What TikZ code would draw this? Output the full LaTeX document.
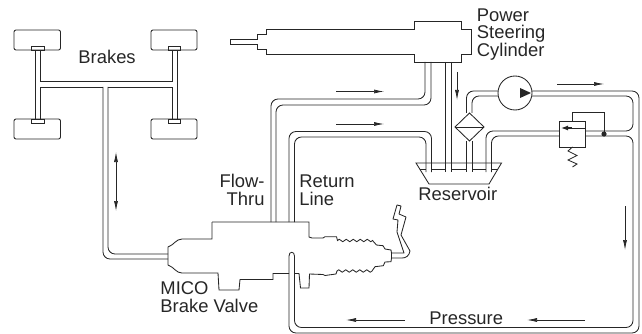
\documentclass[tikz,border=0pt]{standalone}
\usepackage{fontspec}
\setmainfont{Liberation Sans}
\usetikzlibrary{arrows.meta}

\begin{document}
\begin{tikzpicture}[x=1pt, y=-1pt, line width=0.85pt, color=black!85,
        wall/.style={rounded corners=7pt},
        flow/.style={line width=0.7pt, -{Latex[length=10pt, width=4pt]}},
        label/.style={inner sep=0pt, anchor=base west, align=left, font=\fontsize{18.4}{17.7}\selectfont},
        wheel/.style={rounded corners=2pt}]
        \useasboundingbox (0, 0) rectangle (642, 334);

        % WHEELS
        \draw[wheel] (14, 30) rectangle (60.5, 50);
        \draw[wheel] (151, 30) rectangle (197, 50);
        \draw[wheel] (14, 119) rectangle (60.5, 139);
        \draw[wheel] (151, 119) rectangle (197, 139);
        \draw (31, 46) rectangle (44, 50);
        \draw (168, 46) rectangle (180.5, 50);
        \draw (31, 119.5) rectangle (44, 123);
        \draw (168, 119.5) rectangle (180.5, 123);

        % BRAKE LINES
        \draw (35, 50) -- (35, 119.5);
        \draw (40, 50) -- (40, 81.5) -- (172, 81.5) -- (172, 50);
        \draw (177, 50) -- (177, 119.5);
        \draw (40, 119.5) -- (40, 87) -- (103, 87);
        \draw (172, 119.5) -- (172, 87) -- (108, 87);
        \draw[wall] (103, 87) -- (103, 259) -- (168, 259);
        \draw[wall] (108, 87) -- (108, 254) -- (168, 254);

        % CYLINDER
        \draw (414, 21) -- (461, 21) -- (461, 29) -- (471, 29) -- (471, 54) -- (461, 54) -- (461, 62)
            -- (414, 62) -- (414, 54) -- (266, 54) -- (266, 49) -- (257, 49) -- (257, 44) -- (230, 44)
            -- (230, 39) -- (257, 39) -- (257, 34) -- (266, 34) -- (266, 29) -- (414, 29) -- cycle;

        % FLOW-THRU
        \draw[wall] (425, 62) -- (425, 99) -- (271, 99) -- (271, 222);
        \draw[wall] (431, 62) -- (431, 105) -- (276, 105) -- (276, 222);
        % RETURN
        \draw[wall] (289, 222) -- (289, 131.5) -- (431.5, 131.5) -- (431.5, 172);
        \draw[wall] (294.5, 222) -- (294.5, 137) -- (426, 137) -- (426, 172);
        \draw (445.5, 62) -- (445.5, 172);
        \draw (451, 62) -- (451, 172);

        % PRESSURE
        \draw (289, 256) .. controls (289, 251) and (294.5, 251) .. (294.5, 256);
        \draw[wall] (294.5, 256) -- (294.5, 327.5) -- (633, 327.5) -- (633, 136) -- (585, 136);
        \draw[wall] (289, 256) -- (289, 333) -- (639, 333) -- (639, 91) -- (466.5, 91) -- (466.5, 113);
        \draw[wall] (585, 131) -- (633, 131) -- (633, 96) -- (472, 96) -- (472, 113);
        \draw[wall] (559, 131) -- (486, 131) -- (486, 172);
        \draw[wall] (559, 136) -- (491.5, 136) -- (491.5, 172);
        \draw (466.5, 141) -- (466.5, 172);
        \draw (472, 141) -- (472, 172);

        % RESERVOIR
        \draw (416, 163) -- (501.5, 163) -- (489, 184) -- (429, 184) -- cycle;
        \draw (419.5, 169.5) -- (426, 169.5);
        \draw (431.5, 169.5) -- (445.5, 169.5);
        \draw (451, 169.5) -- (466.5, 169.5);
        \draw (472, 169.5) -- (486, 169.5);
        \draw (491.5, 169.5) -- (497.5, 169.5);

        % FILTER
        \draw[fill=white] (455, 127) -- (469.5, 113) -- (484, 127) -- (469.5, 141) -- cycle;
        \draw (455, 127) -- (484, 127);

        % PUMP
        \draw[fill=white] (515, 93) circle (17);
        \fill (520, 88) -- (531, 93) -- (520, 98) -- cycle;

        % RELIEF VALVE
        \draw[fill=white] (559, 121) rectangle (585, 147);
        \draw[line width=0.6pt] (570, 128) -- (585, 128);
        \draw[line width=1.2pt, -{Latex[length=7pt, width=5pt]}] (572, 128) -- (561, 128);
        \draw (572, 121) -- (572, 112) -- (604, 112) -- (604, 134);
        \fill (604, 134) circle (2.6);
        \draw (572.5, 147) -- (568, 151) -- (577, 155.5) -- (568, 160) -- (577, 164) -- (572.5, 167);

        % BRAKE VALVE
        \draw (212, 222) -- (309, 222) -- (309, 237) -- (312, 238) -- (323, 238) -- (325, 236.7) -- (336.5, 236.7)
            -- (337.5, 240.5) foreach \i in {1,...,5} {sin ++(1.75, -1.2) cos ++(1.75, 1.2) sin ++(1.75, 1.2) cos ++(1.75, -1.2)}
            -- (376.5, 245) -- (383, 245.7) -- (385, 249) -- (391, 250) -- (391.5, 253);
        \draw (212, 222) -- (212, 239) -- (182, 239) .. controls (176, 239) and (174, 245) .. (168, 247)
            -- (168, 265) .. controls (174, 267) and (176, 273) .. (182, 273) -- (218, 273) -- (219, 290)
            -- (239, 290) -- (240, 279.5) -- (273, 279.5) -- (273, 273.5) -- (289, 273.5);
        \draw (294.5, 273.5) -- (299, 273.5) -- (300.5, 288) -- (309, 288) -- (309.5, 274) -- (323, 274.5) -- (325, 275.5) -- (336, 274)
            -- (337, 271) foreach \i in {1,...,5} {sin ++(1.75, -1.2) cos ++(1.75, 1.2) sin ++(1.75, 1.2) cos ++(1.75, -1.2)}
            -- (375, 266.7) -- (383.3, 265.7) -- (385, 262) -- (391, 261.7) -- (391.5, 258);

        % PEDAL
        \draw[line join=round] (391.5, 253) -- (404, 253) -- (397, 232) -- (398, 220) -- (393, 219) -- (397, 205)
            -- (401, 206) -- (399, 214) -- (406, 217) -- (401, 235) -- (410, 251)
            .. controls (409, 256) and (406, 258) .. (402, 258) -- (391.5, 258) -- cycle;

        % ARROWS
        \draw[flow, {Latex[length=10pt, width=4pt]}-] (116, 152) -- (116, 181);
        \draw[flow] (116, 181) -- (116, 211);
        \draw[flow] (336, 91.5) -- (384, 91.5);
        \draw[flow] (336, 124) -- (384, 124);
        \draw[flow] (557, 84) -- (604, 84);
        \draw[flow] (457, 72) -- (457, 100);
        \draw[flow] (625, 206) -- (625, 250);
        \draw[flow] (405, 320) -- (346, 320);
        \draw[flow] (585, 320) -- (527, 320);

        % LABELS
        \node[label] (brakes) at (78, 64) {Brakes};
        \node[label] (cylinder) at (476.5, 56.5) {Power\\Steering\\Cylinder};
        \node[label, anchor=base east, align=right] (flowthru) at (265, 205) {Flow-\\Thru};
        \node[label] (returnline) at (299, 205) {Return\\Line};
        \node[label] (reservoir) at (418, 200.5) {Reservoir};
        \node[label] (brakevalve) at (160, 312) {MICO\\Brake Valve};
        \node[label] (pressure) at (429, 324) {Pressure};
    \end{tikzpicture}
\end{document}
